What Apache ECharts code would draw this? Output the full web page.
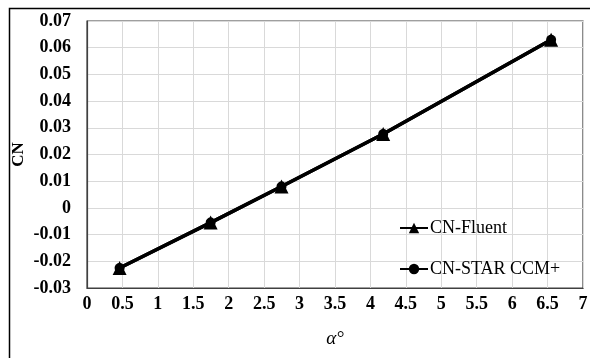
<!DOCTYPE html>
<html>
<head>
<meta charset="utf-8">
<script src="https://cdn.jsdelivr.net/npm/echarts@6/dist/echarts.min.js"></script>
<style>html,body{margin:0;padding:0;background:#fff}#c{width:590px;height:358px}</style>
</head>
<body>
<div id="c"></div>
<script>
const alphaDeg = [0.46, 1.745, 2.745, 4.18, 6.55];
const cnFluent = [-0.0225, -0.0055, 0.008, 0.0277, 0.063];
const cnStar = [-0.0225, -0.0055, 0.008, 0.0277, 0.063];
const seriesNames = ['CN-Fluent', 'CN-STAR CCM+'];
const xTicks = {min: 0, max: 7, interval: 0.5};
const yTicks = {min: -0.03, max: 0.07, interval: 0.01};

const font = '"Liberation Serif", "Times New Roman", serif';
const chart = echarts.init(document.getElementById('c'));
chart.setOption({
  animation: false,
  backgroundColor: '#fff',
  graphic: [{
    type: 'rect', left: 7, top: 6, shape: {width: 620, height: 400},
    style: {fill: 'none', stroke: '#000', lineWidth: 1.5}, z: -1
  }],
  grid: {left: 87, top: 21, right: 7, bottom: 70, show: true, borderColor: '#404040', borderWidth: 1.2,
    outerBoundsMode: 'none', containLabel: false},
  legend: {
    orient: 'vertical', left: 394, top: 214, itemGap: 23,
    itemWidth: 28, itemHeight: 13,
    textStyle: {fontFamily: font, fontSize: 18, color: '#000', padding: [0, 0, 0, -3]},
    data: seriesNames
  },
  xAxis: {
    type: 'value', min: xTicks.min, max: xTicks.max, interval: xTicks.interval,
    name: 'α°', nameLocation: 'middle', nameGap: 41, nameMoveOverlap: false,
    nameTextStyle: {fontFamily: font, fontSize: 19, fontStyle: 'italic', color: '#000'},
    axisLine: {show: true, onZero: false, lineStyle: {color: '#404040', width: 1.2}},
    axisTick: {show: false},
    splitLine: {show: true, lineStyle: {color: '#d9d9d9', width: 1}},
    axisLabel: {fontFamily: font, fontSize: 18, fontWeight: 'bold', color: '#000', margin: 7,
      formatter: v => String(v)}
  },
  yAxis: {
    type: 'value', min: yTicks.min, max: yTicks.max, interval: yTicks.interval,
    name: 'CN', nameLocation: 'middle', nameGap: 60, nameRotate: 90, nameMoveOverlap: false,
    nameTextStyle: {fontFamily: font, fontSize: 17, fontWeight: 'bold', color: '#000'},
    axisLine: {show: true, lineStyle: {color: '#404040', width: 1.2}},
    axisTick: {show: false},
    splitLine: {show: true, lineStyle: {color: '#d9d9d9', width: 1}},
    axisLabel: {fontFamily: font, fontSize: 18, fontWeight: 'bold', color: '#000', margin: 16,
      formatter: v => String(Math.round(v * 100) / 100)}
  },
  series: [
    {
      name: seriesNames[1], type: 'line', z: 2,
      data: alphaDeg.map((x, i) => [x, cnStar[i]]),
      symbol: 'circle', symbolSize: 10,
      lineStyle: {color: '#000', width: 3.5},
      itemStyle: {color: '#000'}
    },
    {
      name: seriesNames[0], type: 'line', z: 3,
      data: alphaDeg.map((x, i) => [x, cnFluent[i]]),
      symbol: 'triangle', symbolSize: 14,
      lineStyle: {color: '#000', width: 3.5},
      itemStyle: {color: '#000'}
    }
  ]
});
</script>
</body>
</html>
